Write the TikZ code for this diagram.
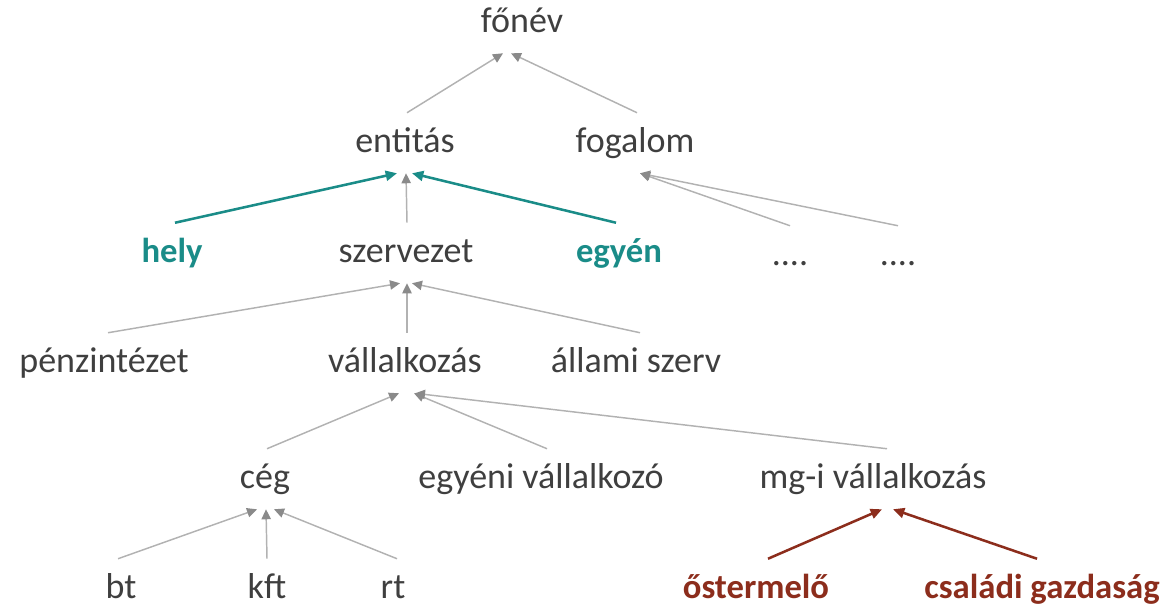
\documentclass[tikz,border=0pt]{standalone}
\usepackage{fontspec}
\setmainfont{Carlito}
\usetikzlibrary{arrows.meta,calc}
\definecolor{txt}{HTML}{3F3F3F}
\definecolor{lgray}{HTML}{B2B2B2}
\definecolor{agray}{HTML}{8A8A8A}
\definecolor{tealc}{HTML}{1A8C88}
\definecolor{brownc}{HTML}{8C2D1C}
\begin{document}
\begin{tikzpicture}[x=0.75pt,y=-0.75pt,
  lbl/.style={text=txt,font=\fontsize{27}{32}\selectfont,inner sep=0pt,
    minimum height=45pt,text height=19.5pt,text depth=6pt},
  tlbl/.style={lbl,text=tealc,font=\fontsize{26}{31}\selectfont\bfseries},
  blbl/.style={lbl,text=brownc,font=\fontsize{26}{31}\selectfont\bfseries},
  garr/.style={draw=lgray,line width=1.1pt,-{Triangle[length=7.5pt,width=7pt,color=agray]}},
  tarr/.style={draw=tealc,line width=1.9pt,-{Triangle[length=8.5pt,width=7.5pt]}},
  barr/.style={draw=brownc,line width=1.9pt,-{Triangle[length=8.5pt,width=7.5pt]}}]
\useasboundingbox (0,0) rectangle (1166,607);
% nodes
\node[lbl] (fonev) at (522,23) {főnév};
\node[lbl] (entitas) at (405,143) {entitás};
\node[lbl] (fogalom) at (635,143) {fogalom};
\node[tlbl] (hely) at (172,253) {hely};
\node[lbl] (szervezet) at (406,253) {szervezet};
\node[tlbl] (egyen) at (619,253) {egyén};
\node[lbl,text=txt] (d1) at (790,256) {....};
\node[lbl,text=txt] (d2) at (898,256) {....};
\node[lbl] (penz) at (104,363) {pénzintézet};
\node[lbl] (vall) at (405,363) {vállalkozás};
\node[lbl] (allami) at (636,363) {állami szerv};
\node[lbl] (ceg) at (265,479) {cég};
\node[lbl] (egyeni) at (541,479) {egyéni vállalkozó};
\node[lbl] (mgi) at (873,479) {mg-i vállalkozás};
\node[lbl] (bt) at (121,589) {bt};
\node[lbl] (kft) at (267,589) {kft};
\node[lbl] (rt) at (393,589) {rt};
\node[blbl] (oster) at (756,589) {őstermelő};
\node[blbl] (csal) at (1042,589) {családi gazdaság};
% edges
\draw[garr] ($(entitas.north)+(2,0)$) -- ($(fonev.south)+(-19,0)$);
\draw[garr] ($(fogalom.north)+(2,0)$) -- ($(fonev.south)+(-11,0)$);
\draw[tarr] ($(hely.north)+(3,0)$) -- ($(entitas.south)+(-8,0)$);
\draw[garr] ($(szervezet.north)+(1,0)$) -- ($(entitas.south)+(1,0)$);
\draw[tarr] ($(egyen.north)+(-3,0)$) -- ($(entitas.south)+(7,0)$);
\draw[garr] (d1.north) -- ($(fogalom.south)+(5,0)$);
\draw[garr] (d2.north) -- ($(fogalom.south)+(5,0)$);
\draw[garr] ($(penz.north)+(4,0)$) -- ($(szervezet.south)+(-6,0)$);
\draw[garr] ($(vall.north)+(2,0)$) -- ($(szervezet.south)+(1,0)$);
\draw[garr] ($(allami.north)+(4,0)$) -- ($(szervezet.south)+(6,0)$);
\draw[garr] ($(ceg.north)+(2,0)$) -- ($(vall.south)+(-6,0)$);
\draw[garr] ($(egyeni.north)+(6,0)$) -- ($(vall.south)+(9,0)$);
\draw[garr] ($(mgi.north)+(14,0)$) -- ($(vall.south)+(10,0)$);
\draw[garr] ($(bt.north)+(-3,0)$) -- ($(ceg.south)+(-8,0)$);
\draw[garr] (kft.north) -- ($(ceg.south)+(1,0)$);
\draw[garr] ($(rt.north)+(4,0)$) -- ($(ceg.south)+(9,0)$);
\draw[barr] ($(oster.north)+(12,0)$) -- ($(mgi.south)+(9,0)$);
\draw[barr] ($(csal.north)+(-5,0)$) -- ($(mgi.south)+(20,0)$);
\end{tikzpicture}
\end{document}
